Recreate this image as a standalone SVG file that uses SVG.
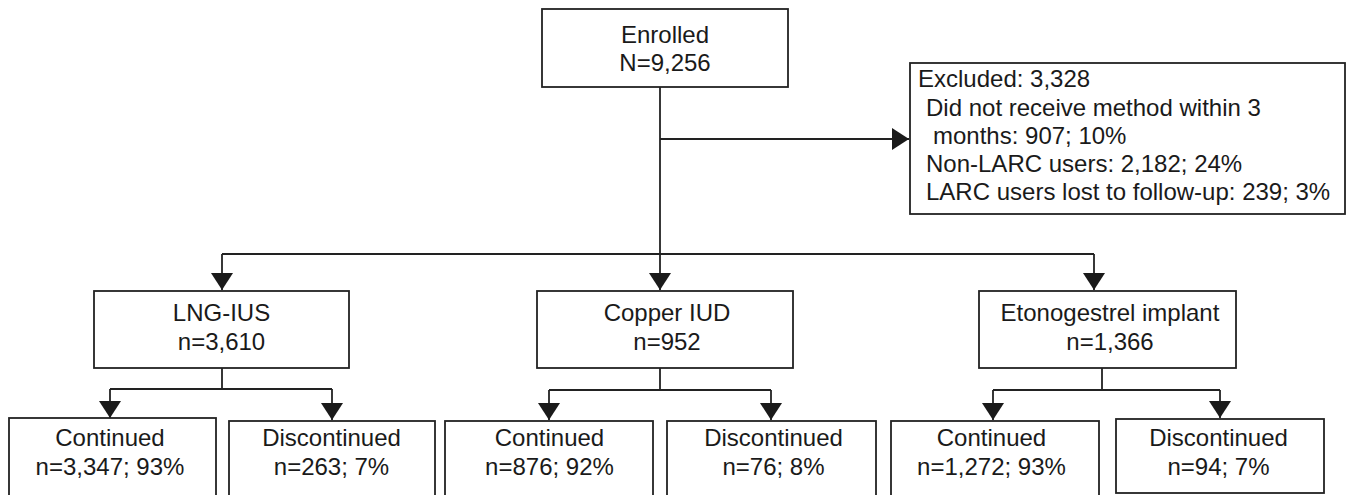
<svg xmlns="http://www.w3.org/2000/svg" width="1352" height="495" viewBox="0 0 1352 495">
<style>
.box{fill:#fff;stroke:#222;stroke-width:1.8}
.t{font-family:"Liberation Sans",Arial,sans-serif;font-size:24px;fill:#1a1a1a}
.c{text-anchor:middle}
.ln{fill:none;stroke:#222;stroke-width:1.8}
</style>
<defs>
<marker id="ah" markerUnits="userSpaceOnUse" markerWidth="18" markerHeight="22" refX="17" refY="11" orient="auto">
<path d="M0,0 L17,11 L0,22 Z" fill="#1a1a1a"/>
</marker>
</defs>
<rect width="1352" height="495" fill="#fff"/>
<g id="connectors">
<path class="ln" d="M660,87 V254"/>
<path class="ln" d="M660,139 H909" marker-end="url(#ah)"/>
<path class="ln" d="M222,254 H1094"/>
<path class="ln" d="M222,254 V290" marker-end="url(#ah)"/>
<path class="ln" d="M660,254 V290" marker-end="url(#ah)"/>
<path class="ln" d="M1094,254 V290" marker-end="url(#ah)"/>
<path class="ln" d="M222,368 V389 M110,389 H332"/>
<path class="ln" d="M110,389 V418" marker-end="url(#ah)"/>
<path class="ln" d="M332,389 V420" marker-end="url(#ah)"/>
<path class="ln" d="M660,368 V390 M549,390 H771"/>
<path class="ln" d="M549,390 V420" marker-end="url(#ah)"/>
<path class="ln" d="M771,390 V420" marker-end="url(#ah)"/>
<path class="ln" d="M1102,368 V390 M993,390 H1220"/>
<path class="ln" d="M993,390 V420" marker-end="url(#ah)"/>
<path class="ln" d="M1220,390 V418" marker-end="url(#ah)"/>
</g>
<g id="enrolled">
<rect class="box" x="542" y="9" width="246" height="78"/>
<text class="t c" x="665" y="43">Enrolled</text>
<text class="t c" x="665" y="71">N=9,256</text>
</g>
<g id="excluded">
<rect class="box" x="910" y="63" width="435" height="151"/>
<text class="t" x="918" y="87">Excluded: 3,328</text>
<text class="t" x="926" y="116">Did not receive method within 3</text>
<text class="t" x="933" y="144">months: 907; 10%</text>
<text class="t" x="926" y="172">Non-LARC users: 2,182; 24%</text>
<text class="t" x="926" y="200">LARC users lost to follow-up: 239; 3%</text>
</g>
<g id="lng">
<rect class="box" x="94" y="291" width="255" height="77"/>
<text class="t c" x="221.5" y="321">LNG-IUS</text>
<text class="t c" x="221.5" y="350">n=3,610</text>
</g>
<g id="copper">
<rect class="box" x="537" y="291" width="256" height="77"/>
<text class="t c" x="667" y="321">Copper IUD</text>
<text class="t c" x="667" y="350">n=952</text>
</g>
<g id="etono">
<rect class="box" x="979" y="291" width="257" height="77"/>
<text class="t c" x="1110" y="321">Etonogestrel implant</text>
<text class="t c" x="1110" y="350">n=1,366</text>
</g>
<g id="lng-cont">
<rect class="box" x="9" y="418" width="207" height="80"/>
<text class="t c" x="110" y="446">Continued</text>
<text class="t c" x="110" y="475">n=3,347; 93%</text>
</g>
<g id="lng-disc">
<rect class="box" x="229" y="421" width="206" height="77"/>
<text class="t c" x="331.5" y="446">Discontinued</text>
<text class="t c" x="331.5" y="475">n=263; 7%</text>
</g>
<g id="copper-cont">
<rect class="box" x="445" y="421" width="208" height="77"/>
<text class="t c" x="549.5" y="446">Continued</text>
<text class="t c" x="549.5" y="475">n=876; 92%</text>
</g>
<g id="copper-disc">
<rect class="box" x="667" y="421" width="209" height="77"/>
<text class="t c" x="773.5" y="446">Discontinued</text>
<text class="t c" x="773.5" y="475">n=76; 8%</text>
</g>
<g id="etono-cont">
<rect class="box" x="891" y="421" width="208" height="77"/>
<text class="t c" x="991.5" y="446">Continued</text>
<text class="t c" x="991.5" y="475">n=1,272; 93%</text>
</g>
<g id="etono-disc">
<rect class="box" x="1116" y="419" width="208" height="74"/>
<text class="t c" x="1218.5" y="446">Discontinued</text>
<text class="t c" x="1218.5" y="475">n=94; 7%</text>
</g>
</svg>
